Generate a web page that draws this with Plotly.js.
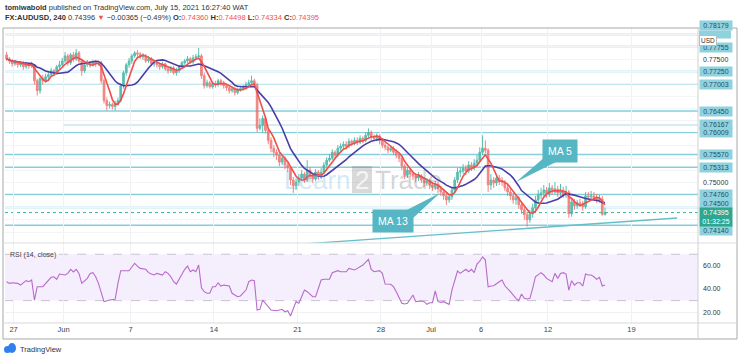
<!DOCTYPE html>
<html><head><meta charset="utf-8">
<script src="https://cdn.plot.ly/plotly-3.0.1.min.js"></script>
<style>html,body{margin:0;padding:0;background:#fff}#chart{width:740px;height:360px}</style>
</head><body><div id="chart"></div>
<script>
// ---------- DATA (AUDUSD 4H candles) ----------
const open = [
0.77587,0.77507,0.77466,0.77406,0.77446,0.77386,0.77426,0.77346,0.77406,0.77366,
0.77386,0.77064,0.76863,0.77105,0.77064,0.77145,0.77185,0.77265,0.77225,0.77346,
0.77386,0.77466,0.77567,0.77426,0.77587,0.77507,0.77627,0.77466,0.77265,0.77386,
0.77426,0.77386,0.77446,0.77406,0.77426,0.77064,0.76662,0.76562,0.76582,0.76542,
0.76602,0.76662,0.76964,0.77225,0.77386,0.77466,0.77567,0.77627,0.77607,0.77547,
0.77567,0.77466,0.77507,0.77406,0.77426,0.77386,0.77346,0.77406,0.77306,0.77265,
0.77326,0.77225,0.77265,0.77346,0.77426,0.77466,0.77507,0.77446,0.77527,0.77547,
0.77567,0.77165,0.76964,0.77024,0.76944,0.77004,0.76984,0.77064,0.77024,0.76964,
0.76924,0.76863,0.76904,0.76823,0.76883,0.76904,0.76944,0.76984,0.77024,0.77064,
0.76984,0.76100,0.76160,0.76301,0.76059,0.75858,0.75698,0.75617,0.75557,0.75416,
0.75497,0.75356,0.75296,0.75054,0.74934,0.75014,0.75095,0.75175,0.75054,0.75255,
0.75135,0.75074,0.75215,0.75115,0.75215,0.75356,0.75456,0.75497,0.75617,0.75557,
0.75698,0.75738,0.75778,0.75738,0.75838,0.75798,0.75858,0.75818,0.75899,0.75858,
0.75959,0.76019,0.75919,0.75899,0.75939,0.75858,0.75758,0.75718,0.75657,0.75698,
0.75617,0.75557,0.75497,0.75336,0.75155,0.75255,0.75175,0.75135,0.75095,0.75135,
0.75054,0.74994,0.75034,0.74954,0.74914,0.74974,0.74873,0.74813,0.74733,0.74652,
0.74713,0.74853,0.75054,0.75215,0.75235,0.75296,0.75235,0.75356,0.75296,0.75396,
0.75456,0.75617,0.75698,0.75657,0.74954,0.75054,0.74994,0.75095,0.75034,0.75014,
0.74894,0.74813,0.74733,0.74652,0.74693,0.74552,0.74451,0.74351,0.74250,0.74371,
0.74492,0.74652,0.74753,0.74793,0.74853,0.74773,0.74894,0.74813,0.74873,0.74793,
0.74853,0.74753,0.74813,0.74371,0.74612,0.74532,0.74592,0.74572,0.74512,0.74733,
0.74713,0.74733,0.74693,0.74652,0.74672,0.74360];
const high = [
0.77647,0.77547,0.77507,0.77486,0.77466,0.77466,0.77466,0.77446,0.77426,0.77446,
0.77406,0.77105,0.77145,0.77185,0.77205,0.77265,0.77326,0.77306,0.77386,0.77466,
0.77527,0.77647,0.77607,0.77627,0.77647,0.77708,0.77667,0.77507,0.77426,0.77486,
0.77466,0.77486,0.77486,0.77466,0.77466,0.77105,0.76723,0.76642,0.76622,0.76662,
0.76723,0.77004,0.77265,0.77426,0.77527,0.77607,0.77667,0.77687,0.77647,0.77627,
0.77607,0.77567,0.77547,0.77486,0.77466,0.77426,0.77446,0.77426,0.77346,0.77366,
0.77366,0.77326,0.77386,0.77466,0.77507,0.77567,0.77547,0.77587,0.77607,0.77728,
0.77607,0.77225,0.77084,0.77064,0.77044,0.77064,0.77105,0.77105,0.77064,0.77004,
0.76964,0.76944,0.76944,0.76924,0.76964,0.76984,0.77044,0.77084,0.77165,0.77105,
0.77024,0.76301,0.76361,0.76341,0.76100,0.75919,0.75758,0.75677,0.75617,0.75557,
0.75537,0.75416,0.75336,0.75115,0.75095,0.75175,0.75255,0.75215,0.75456,0.75316,
0.75195,0.75275,0.75255,0.75296,0.75416,0.75517,0.75577,0.75677,0.75657,0.75758,
0.75798,0.75838,0.75838,0.75899,0.75878,0.75919,0.75919,0.75959,0.75939,0.76019,
0.76100,0.76059,0.75979,0.75999,0.75979,0.75899,0.75818,0.75758,0.75758,0.75738,
0.75677,0.75597,0.75537,0.75376,0.75316,0.75296,0.75235,0.75195,0.75215,0.75175,
0.75115,0.75095,0.75074,0.75014,0.75034,0.75014,0.74934,0.74873,0.74793,0.74773,
0.74914,0.75115,0.75296,0.75316,0.75376,0.75356,0.75436,0.75416,0.75476,0.75557,
0.75718,0.75959,0.75858,0.75698,0.75175,0.75115,0.75175,0.75155,0.75115,0.75054,
0.74954,0.74873,0.74793,0.74753,0.74733,0.74612,0.74512,0.74411,0.74451,0.74572,
0.74733,0.74853,0.74894,0.74954,0.74914,0.74994,0.74954,0.75014,0.74934,0.74974,
0.74914,0.74934,0.74853,0.74693,0.74672,0.74652,0.74672,0.74632,0.74813,0.74813,
0.74833,0.74813,0.74773,0.74753,0.74733,0.74498];
const low = [
0.77466,0.77406,0.77346,0.77366,0.77326,0.77346,0.77285,0.77306,0.77306,0.77326,
0.76984,0.76763,0.76803,0.76984,0.77024,0.77084,0.77145,0.77165,0.77185,0.77306,
0.77346,0.77426,0.77366,0.77386,0.77446,0.77466,0.77426,0.77165,0.77225,0.77346,
0.77326,0.77346,0.77346,0.77366,0.77004,0.76602,0.76461,0.76502,0.76481,0.76461,
0.76562,0.76622,0.76904,0.77165,0.77326,0.77406,0.77527,0.77547,0.77507,0.77486,
0.77426,0.77426,0.77366,0.77346,0.77326,0.77285,0.77306,0.77265,0.77205,0.77225,
0.77185,0.77165,0.77225,0.77306,0.77386,0.77426,0.77406,0.77406,0.77486,0.77507,
0.77105,0.76904,0.76924,0.76904,0.76904,0.76924,0.76944,0.76964,0.76904,0.76863,
0.76803,0.76823,0.76763,0.76783,0.76843,0.76863,0.76904,0.76944,0.76984,0.76944,
0.76019,0.76059,0.76019,0.75999,0.75778,0.75617,0.75517,0.75456,0.75336,0.75356,
0.75275,0.75215,0.74954,0.74793,0.74853,0.74934,0.75034,0.74994,0.75014,0.75074,
0.74994,0.75034,0.75054,0.75074,0.75175,0.75316,0.75416,0.75456,0.75497,0.75517,
0.75637,0.75677,0.75677,0.75698,0.75738,0.75758,0.75758,0.75778,0.75798,0.75818,
0.75919,0.75858,0.75838,0.75838,0.75778,0.75698,0.75657,0.75597,0.75617,0.75557,
0.75497,0.75416,0.75255,0.75074,0.75095,0.75115,0.75054,0.75014,0.75034,0.74994,
0.74914,0.74934,0.74873,0.74833,0.74853,0.74793,0.74733,0.74652,0.74552,0.74592,
0.74652,0.74793,0.74994,0.75115,0.75175,0.75155,0.75195,0.75235,0.75255,0.75336,
0.75416,0.75557,0.75597,0.74813,0.74853,0.74894,0.74934,0.74954,0.74934,0.74833,
0.74733,0.74652,0.74572,0.74552,0.74471,0.74371,0.74250,0.74110,0.74190,0.74291,
0.74431,0.74572,0.74672,0.74733,0.74693,0.74713,0.74753,0.74773,0.74713,0.74733,
0.74693,0.74693,0.74291,0.74311,0.74451,0.74471,0.74512,0.74431,0.74471,0.74652,
0.74652,0.74632,0.74592,0.74592,0.74331,0.74334];
const close = [
0.77507,0.77466,0.77406,0.77446,0.77386,0.77426,0.77346,0.77406,0.77366,0.77386,
0.77064,0.76863,0.77105,0.77064,0.77145,0.77185,0.77265,0.77225,0.77346,0.77386,
0.77466,0.77567,0.77426,0.77587,0.77507,0.77627,0.77466,0.77265,0.77386,0.77426,
0.77386,0.77446,0.77406,0.77426,0.77064,0.76662,0.76562,0.76582,0.76542,0.76602,
0.76662,0.76964,0.77225,0.77386,0.77466,0.77567,0.77627,0.77607,0.77547,0.77567,
0.77466,0.77507,0.77406,0.77426,0.77386,0.77346,0.77406,0.77306,0.77265,0.77326,
0.77225,0.77265,0.77346,0.77426,0.77466,0.77507,0.77446,0.77527,0.77547,0.77567,
0.77165,0.76964,0.77024,0.76944,0.77004,0.76984,0.77064,0.77024,0.76964,0.76924,
0.76863,0.76904,0.76823,0.76883,0.76904,0.76944,0.76984,0.77024,0.77064,0.76984,
0.76100,0.76160,0.76301,0.76059,0.75858,0.75698,0.75617,0.75557,0.75416,0.75497,
0.75356,0.75296,0.75054,0.74934,0.75014,0.75095,0.75175,0.75054,0.75255,0.75135,
0.75074,0.75215,0.75115,0.75215,0.75356,0.75456,0.75497,0.75617,0.75557,0.75698,
0.75738,0.75778,0.75738,0.75838,0.75798,0.75858,0.75818,0.75899,0.75858,0.75959,
0.76019,0.75919,0.75899,0.75939,0.75858,0.75758,0.75718,0.75657,0.75698,0.75617,
0.75557,0.75497,0.75336,0.75155,0.75255,0.75175,0.75135,0.75095,0.75135,0.75054,
0.74994,0.75034,0.74954,0.74914,0.74974,0.74873,0.74813,0.74733,0.74652,0.74713,
0.74853,0.75054,0.75215,0.75235,0.75296,0.75235,0.75356,0.75296,0.75396,0.75456,
0.75617,0.75698,0.75657,0.74954,0.75054,0.74994,0.75095,0.75034,0.75014,0.74894,
0.74813,0.74733,0.74652,0.74693,0.74552,0.74451,0.74351,0.74250,0.74371,0.74492,
0.74652,0.74753,0.74793,0.74853,0.74773,0.74894,0.74813,0.74873,0.74793,0.74853,
0.74753,0.74813,0.74371,0.74612,0.74532,0.74592,0.74572,0.74512,0.74733,0.74713,
0.74733,0.74693,0.74652,0.74672,0.74360,0.74395];

// RSI(14, close) vertices: candle index and value
const rsiIdx = [0,1,2,4,5,7,8,9,10,11,13,14,16,17,18,19,21,22,23,24,25,26,27,29,30,31,32,33,35,37,39,40,41,44,45,46,47,48,50,51,52,53,54,56,57,58,59,60,61,62,63,64,65,66,67,68,69,70,71,72,73,74,75,76,77,78,80,81,83,84,86,87,88,89,90,91,92,93,95,97,99,100,101,102,104,105,107,108,110,111,113,114,116,117,119,120,122,123,125,126,128,130,131,132,134,135,136,138,139,140,142,143,144,146,147,149,150,151,152,153,154,155,156,157,159,160,161,162,163,165,166,167,168,169,170,171,172,173,174,175,177,178,179,180,181,183,184,185,186,187,188,189,190,192,193,194,196,197,198,199,200,201,202,203,204,205,206,207,208,209,210,211,212,213,214,215];
const rsiVal = [46.3,44.9,45.4,44.9,43.4,47.2,46.3,47.8,30.5,42.0,42.0,44.9,50.1,50.6,48.4,52.9,52.1,53.5,57.0,54.7,57.0,53.5,44.9,49.2,53.5,54.1,50.6,44.9,29.1,30.5,31.1,44.9,55.8,55.8,59.2,62.2,59.8,57.8,57.0,54.1,52.9,52.1,53.5,52.1,54.9,53.5,50.6,46.3,44.3,48.4,52.1,57.0,59.8,54.9,56.4,54.9,60.7,41.0,37.7,36.3,36.3,42.0,42.0,45.4,42.6,43.4,42.6,36.3,33.4,34.0,39.1,46.3,47.8,47.2,21.9,22.5,30.5,27.7,21.9,21.3,22.5,20.4,21.3,16.7,29.1,27.7,39.1,37.7,33.4,33.4,47.8,48.4,48.4,54.1,55.8,54.9,54.9,57.8,56.4,57.8,60.7,65.6,57.0,54.9,55.8,53.5,44.3,44.1,42.0,37.7,27.7,27.1,27.7,34.8,29.1,29.7,29.1,26.8,28.2,28.2,38.5,29.1,28.5,29.1,26.8,39.1,46.3,55.5,53.5,57.0,54.9,57.0,54.1,61.6,64.0,67.8,65.0,42.0,42.6,42.8,46.3,47.8,42.8,40.6,37.7,32.0,29.9,35.7,32.0,31.4,32.0,40.6,50.6,54.1,52.1,49.2,46.3,53.5,49.2,53.5,54.1,52.9,39.1,47.2,43.4,45.4,45.4,42.6,52.9,52.1,52.1,50.6,48.4,50.1,42.6,43.4];

// horizontal price levels drawn on the chart (and where each starts, candle index)
const levels     = [0.78000,0.77755,0.77250,0.77003,0.76450,0.76167,0.76009,0.75570,0.75313,0.74760,0.74500,0.74140];
const levelStart = [null,null,null,null,null,20.3,null,null,null,null,null,null];
const labelLevels = [0.78179,0.77755,0.77250,0.77003,0.76450,0.76167,0.76009,0.75570,0.75313,0.74760,0.74500,0.74140];
const hiddenLevel = 0.78000; // its label sits under the "USD" badge
// ascending trend line (candle index, price)
const trendIdx = [106.5, 240.9];
const trendPrice = [0.73759, 0.74285];
// time axis
const tickIdx  = [2.5,20.5,44.5,74.5,104.5,134.5,152.5,170.5,194.5,224.5];
const tickText = ['27','Jun','7','14','21','28','Jul','6','12','19'];
const priceTicks = [0.7400,0.7425,0.7450,0.7475,0.7500,0.7525,0.7550,0.7575,0.7600,0.7625,0.7650,0.7675,0.7700,0.7725,0.7750,0.7775,0.7800];
const priceTickShown = [0.7750,0.7500];
const rsiTicks = [20,40,60];
// header values
const headerPrice = 0.74396, headerChange = -0.00365, headerPct = -0.49;
const countdown = '01:32:25';

// ---------- derived series ----------
const idx = close.map((_, i) => i);
function sma(arr, n) {
  return arr.map((_, i) => {
    const w = arr.slice(Math.max(0, i - n + 1), i + 1);
    return w.reduce((a, b) => a + b, 0) / w.length;
  });
}
const ma5 = sma(close, 5), ma13 = sma(close, 13);
const last = close.length - 1;

// ---------- layout helpers (pixel -> paper) ----------
const L = 5, R = 698, T = 28, B = 323;
const px = x => (x - L) / (R - L);
const py = y => (B - y) / (B - T);
const split = py(243);
const xRange = [-0.575, 248.4];
const yRange = [0.73779, 0.78132];
const yPix = p => T + (yRange[1] - p) / (yRange[1] - yRange[0]) * (243 - T);
function poly(pts) { return 'M' + pts.map(p => px(p[0]) + ',' + py(p[1])).join(' L') + ' Z'; }
const f5 = v => v.toFixed(5);
const RED = '#EF5350';
const LVL = '#86CEDA';
const CALL = '#56B6C3';

// ---------- traces ----------
const traces = [
  { type: 'candlestick', x: idx, open: open, high: high, low: low, close: close,
    xaxis: 'x', yaxis: 'y', whiskerwidth: 0, opacity: 0.85,
    increasing: { line: { color: '#3FB3A2', width: 1 }, fillcolor: '#3FB3A2' },
    decreasing: { line: { color: '#EF6F6C', width: 1 }, fillcolor: '#EF6F6C' },
    hoverinfo: 'skip', showlegend: false },
  { type: 'scatter', mode: 'lines', x: idx, y: ma13, xaxis: 'x', yaxis: 'y',
    line: { color: '#4A3EA6', width: 1.6 }, hoverinfo: 'skip', showlegend: false },
  { type: 'scatter', mode: 'lines', x: idx, y: ma5, xaxis: 'x', yaxis: 'y',
    line: { color: '#EF4F4C', width: 1.6 }, hoverinfo: 'skip', showlegend: false },
  { type: 'scatter', mode: 'lines', x: trendIdx, y: trendPrice, xaxis: 'x', yaxis: 'y',
    line: { color: '#64BFC9', width: 1.3 }, hoverinfo: 'skip', showlegend: false },
  { type: 'scatter', mode: 'lines', x: rsiIdx, y: rsiVal, xaxis: 'x', yaxis: 'y2',
    line: { color: '#B86BCB', width: 1.1 }, hoverinfo: 'skip', showlegend: false }
];

// ---------- shapes ----------
const shapes = [];
shapes.push({ type: 'rect', xref: 'paper', yref: 'y2', x0: 0, x1: 1, y0: 30, y1: 70,
  fillcolor: 'rgba(160,100,230,0.11)', line: { width: 0 }, layer: 'below' });
[30, 70].forEach(v => shapes.push({ type: 'line', xref: 'paper', yref: 'y2', x0: 0, x1: 1, y0: v, y1: v,
  line: { color: '#C9C2D3', width: 1, dash: 'dash' }, layer: 'below' }));
levels.forEach((lv, i) => shapes.push({ type: 'line', xref: 'x', yref: 'y',
  x0: levelStart[i] === null ? xRange[0] : levelStart[i], x1: xRange[1], y0: lv, y1: lv,
  line: { color: levelStart[i] === null ? LVL : '#C5E8EE', width: 1.5 }, layer: 'below' }));
shapes.push({ type: 'line', xref: 'paper', yref: 'y', x0: 0, x1: 1, y0: close[last], y1: close[last],
  line: { color: '#3FAF9E', width: 1, dash: 'dot' }, layer: 'below' });
// cyan label box (text hidden under USD badge)
shapes.push({ type: 'rect', xref: 'paper', yref: 'paper', x0: px(699), x1: px(731),
  y0: py(yPix(hiddenLevel) + 4), y1: py(yPix(hiddenLevel) - 4), fillcolor: '#8FD2DD', line: { width: 0 }, layer: 'above' });
// frame & separators
shapes.push({ type: 'rect', xref: 'paper', yref: 'paper', x0: px(3), x1: px(737), y0: py(28), y1: py(339),
  line: { color: '#A8A8A8', width: 1 }, fillcolor: 'rgba(0,0,0,0)', layer: 'above' });
shapes.push({ type: 'line', xref: 'paper', yref: 'paper', x0: px(3), x1: px(737), y0: split, y1: split,
  line: { color: '#DADDE3', width: 1 }, layer: 'above' });
shapes.push({ type: 'line', xref: 'paper', yref: 'paper', x0: px(3), x1: px(737), y0: 0, y1: 0,
  line: { color: '#D8D8D8', width: 1 }, layer: 'above' });
shapes.push({ type: 'line', xref: 'paper', yref: 'paper', x0: 1, x1: 1, y0: py(339), y1: py(28),
  line: { color: '#D0D0D0', width: 1 }, layer: 'above' });
// callout pointers
shapes.push({ type: 'path', xref: 'paper', yref: 'paper', path: poly([[546, 156], [516, 182], [560, 160]]),
  fillcolor: CALL, line: { width: 0 }, layer: 'above' });
shapes.push({ type: 'path', xref: 'paper', yref: 'paper', path: poly([[399, 214], [440, 193], [412, 219]]),
  fillcolor: CALL, line: { width: 0 }, layer: 'above' });
// watermark box for "2"
shapes.push({ type: 'rect', xref: 'paper', yref: 'paper', x0: px(352), x1: px(372), y0: py(193), y1: py(166),
  fillcolor: 'rgba(120,120,120,0.28)', line: { width: 0 }, layer: 'above' });
// TradingView logo blob
shapes.push({ type: 'circle', xref: 'paper', yref: 'paper', x0: px(4), x1: px(11), y0: py(353), y1: py(346),
  fillcolor: '#2F80ED', line: { width: 0 } });
shapes.push({ type: 'circle', xref: 'paper', yref: 'paper', x0: px(8), x1: px(16), y0: py(353), y1: py(343),
  fillcolor: '#2F80ED', line: { width: 0 } });

// ---------- annotations ----------
const ann = [];
const labelShift = { '0.74500': 4, '0.74140': -5, '0.77755': -1, '0.77003': -1, '0.76167': 1 };
labelLevels.forEach(lv => {
  const t = f5(lv);
  ann.push({ xref: 'paper', yref: 'paper', x: px(699), y: py(yPix(lv) - (labelShift[t] || 0)), xanchor: 'left', yanchor: 'middle',
    text: t, showarrow: false, bgcolor: '#8FD2DD', borderpad: 1,
    width: 30, align: 'center', font: { size: 7, color: '#24505C' } });
});
ann.push({ xref: 'paper', yref: 'paper', x: px(717), y: py(yPix(hiddenLevel)), text: 'USD', showarrow: false,
  bgcolor: '#FFFFFF', bordercolor: '#BDBDBD', borderwidth: 1, borderpad: 1, font: { size: 6.5, color: '#333' } });
ann.push({ xref: 'paper', yref: 'paper', x: px(699), y: py(yPix(close[last]) - 5.5), xanchor: 'left', yanchor: 'top',
  text: f5(close[last]) + '<br>' + countdown, showarrow: false, bgcolor: '#2DA78F', borderpad: 1,
  width: 30, align: 'center', font: { size: 7, color: '#FFFFFF' } });
// header
ann.push({ xref: 'paper', yref: 'paper', x: px(3), y: py(7.5), xanchor: 'left', yanchor: 'middle', showarrow: false,
  text: '<b>tomiwabold</b> published on TradingView.com, July 15, 2021 16:27:40 WAT',
  font: { size: 7.5, color: '#333' } });
const sp = v => '<span style="color:' + RED + '">' + v + '</span>';
ann.push({ xref: 'paper', yref: 'paper', x: px(3), y: py(17.5), xanchor: 'left', yanchor: 'middle', showarrow: false,
  text: '<b>FX:AUDUSD, 240</b> ' + f5(headerPrice) + ' ' + sp('▼') + ' ' + '\u2212' + Math.abs(headerChange).toFixed(5) +
    ' (\u2212' + Math.abs(headerPct).toFixed(2) + '%) <b>O:</b>' + sp(f5(open[last])) + ' <b>H:</b>' + sp(f5(high[last])) +
    ' <b>L:</b>' + sp(f5(low[last])) + ' <b>C:</b>' + sp(f5(close[last])),
  font: { size: 7.5, color: '#333' } });
ann.push({ xref: 'paper', yref: 'paper', x: px(8), y: py(255.5), xanchor: 'left', yanchor: 'middle', showarrow: false,
  text: 'RSI (14, close)', font: { size: 7, color: '#444' } });
// watermark
ann.push({ xref: 'paper', yref: 'paper', x: px(282), y: py(180), xanchor: 'left', yanchor: 'middle', showarrow: false,
  text: 'Learn', font: { size: 26, color: 'rgba(100,180,222,0.30)' } });
ann.push({ xref: 'paper', yref: 'paper', x: px(362), y: py(180), xanchor: 'center', yanchor: 'middle', showarrow: false,
  text: '2', font: { size: 26, color: 'rgba(255,255,255,0.75)' } });
ann.push({ xref: 'paper', yref: 'paper', x: px(373), y: py(180), xanchor: 'left', yanchor: 'middle', showarrow: false,
  text: 'Trade', font: { size: 26, color: 'rgba(110,110,110,0.30)' } });
// callout boxes (drawn last so they sit on top)
ann.push({ xref: 'paper', yref: 'paper', x: px(560), y: py(151), xanchor: 'center', yanchor: 'middle', showarrow: false,
  text: 'MA 5', bgcolor: CALL, borderpad: 5, font: { size: 10.5, color: '#FFFFFF' } });
ann.push({ xref: 'paper', yref: 'paper', x: px(393), y: py(221), xanchor: 'center', yanchor: 'middle', showarrow: false,
  text: 'MA 13', bgcolor: CALL, borderpad: 5, font: { size: 10.5, color: '#FFFFFF' } });
ann.push({ xref: 'paper', yref: 'paper', x: px(18), y: py(349), xanchor: 'left', yanchor: 'middle', showarrow: false,
  text: 'TradingView', font: { size: 7.5, color: '#333' } });

const layout = {
  width: 740, height: 360,
  margin: { l: L, r: 740 - R, t: T, b: 360 - B, pad: 0 },
  paper_bgcolor: '#FFFFFF', plot_bgcolor: '#FFFFFF',
  font: { family: 'Liberation Sans, Arial, sans-serif', size: 7, color: '#333' },
  showlegend: false,
  boxgap: 0.15,
  xaxis: { domain: [0, 1], anchor: 'y2', range: xRange, tickmode: 'array', tickvals: tickIdx, ticktext: tickText,
    showgrid: true, gridcolor: '#F0F1F4', gridwidth: 1, zeroline: false, showline: false, ticks: '',
    tickfont: { size: 7.5, color: '#444' }, rangeslider: { visible: false }, fixedrange: true },
  yaxis: { domain: [split, 1], anchor: 'x', side: 'right', range: yRange, tickmode: 'array',
    tickvals: priceTicks, ticktext: priceTicks.map(v => priceTickShown.includes(v) ? f5(v) : ''),
    showgrid: true, gridcolor: '#F3F4F6', zeroline: false, showline: false, ticks: '',
    ticklabelstandoff: 4, tickfont: { size: 7, color: '#333' }, fixedrange: true },
  yaxis2: { domain: [0, split], anchor: 'x', side: 'right', range: [10.7, 79.7], tickmode: 'array',
    tickvals: rsiTicks, ticktext: rsiTicks.map(v => v.toFixed(2)),
    showgrid: true, gridcolor: '#F0F1F4', zeroline: false, showline: false, ticks: '',
    ticklabelstandoff: 4, tickfont: { size: 7, color: '#333' }, fixedrange: true },
  shapes: shapes,
  annotations: ann
};
Plotly.newPlot('chart', traces, layout, { staticPlot: true, displayModeBar: false });
</script>
</body></html>
